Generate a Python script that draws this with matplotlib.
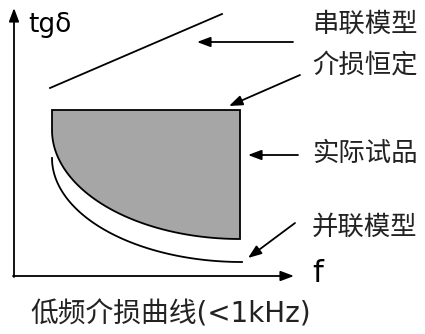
import numpy as np
import matplotlib
matplotlib.use('Agg')
import matplotlib.pyplot as plt

plt.rcParams['font.family'] = ['DejaVu Sans', 'Noto Sans CJK SC']

# diagram geometry in pixel units (y downward)
axis_origin = (14, 276)
axis_x_end = 294
axis_y_end = 8
series_line = ([50, 222], [88, 14])
rect_left, rect_top, rect_right, rect_bottom = 52, 110, 240, 239
rect_knee = 130
par_start = (52, 158)
par_end = (242, 262)

labels = ['串联模型', '介损恒定', '实际试品', '并联模型']
label_y = [25, 66, 154, 228]
arrow_tail = [(293, 42), (300, 75), (298, 155), (295, 223)]
arrow_head = [(197, 42), (229, 106), (248, 155), (248, 258)]
caption = '低频介损曲线(<1kHz)'

fig = plt.figure(figsize=(4.25, 3.34), dpi=100)
ax = fig.add_axes([0, 0, 1, 1])
ax.set_xlim(0, 425)
ax.set_ylim(334, 0)
ax.axis('off')

lw = 1.3
ap = dict(arrowstyle='-|>,head_length=0.8,head_width=0.3', color='black', lw=lw,
          shrinkA=0, shrinkB=0)

# axes
ax.annotate('', xy=(axis_x_end, axis_origin[1]), xytext=(axis_origin[0] - 1, axis_origin[1]), arrowprops=ap)
ax.annotate('', xy=(axis_origin[0], axis_y_end), xytext=(axis_origin[0], axis_origin[1] + 1), arrowprops=ap)
ax.text(28, 32, 'tgδ', fontsize=19, va='baseline', ha='left')
ax.text(312, 282, 'f', fontsize=22, va='baseline', ha='left')

# series model line
ax.plot(series_line[0], series_line[1], color='black', lw=lw)

# real sample: rectangle with elliptic lower-left edge
t = np.linspace(0, np.pi / 2, 100)
a = rect_right - rect_left
b = rect_bottom - rect_knee
cx = rect_left + a * (1 - np.cos(t))
cy = rect_knee + b * np.sin(t)
px = np.concatenate([[rect_left, rect_right, rect_right], cx[::-1], [rect_left]])
py = np.concatenate([[rect_top, rect_top, rect_bottom], cy[::-1], [rect_top]])
ax.fill(px, py, facecolor='#a6a6a6', edgecolor='black', lw=lw)

# parallel model curve
a2 = par_end[0] - par_start[0]
b2 = par_end[1] - par_start[1]
ax.plot(par_start[0] + a2 * (1 - np.cos(t)), par_start[1] + b2 * np.sin(t), color='black', lw=lw)

for lab, y, tail, head in zip(labels, label_y, arrow_tail, arrow_head):
    ax.text(312, y, lab, fontsize=19, va='center', ha='left', color='#222222')
    ax.annotate('', xy=head, xytext=tail, arrowprops=ap)

ax.text(30, 315, caption, fontsize=20, va='center', ha='left', color='#222222')

fig.savefig('out.png', dpi=100)
